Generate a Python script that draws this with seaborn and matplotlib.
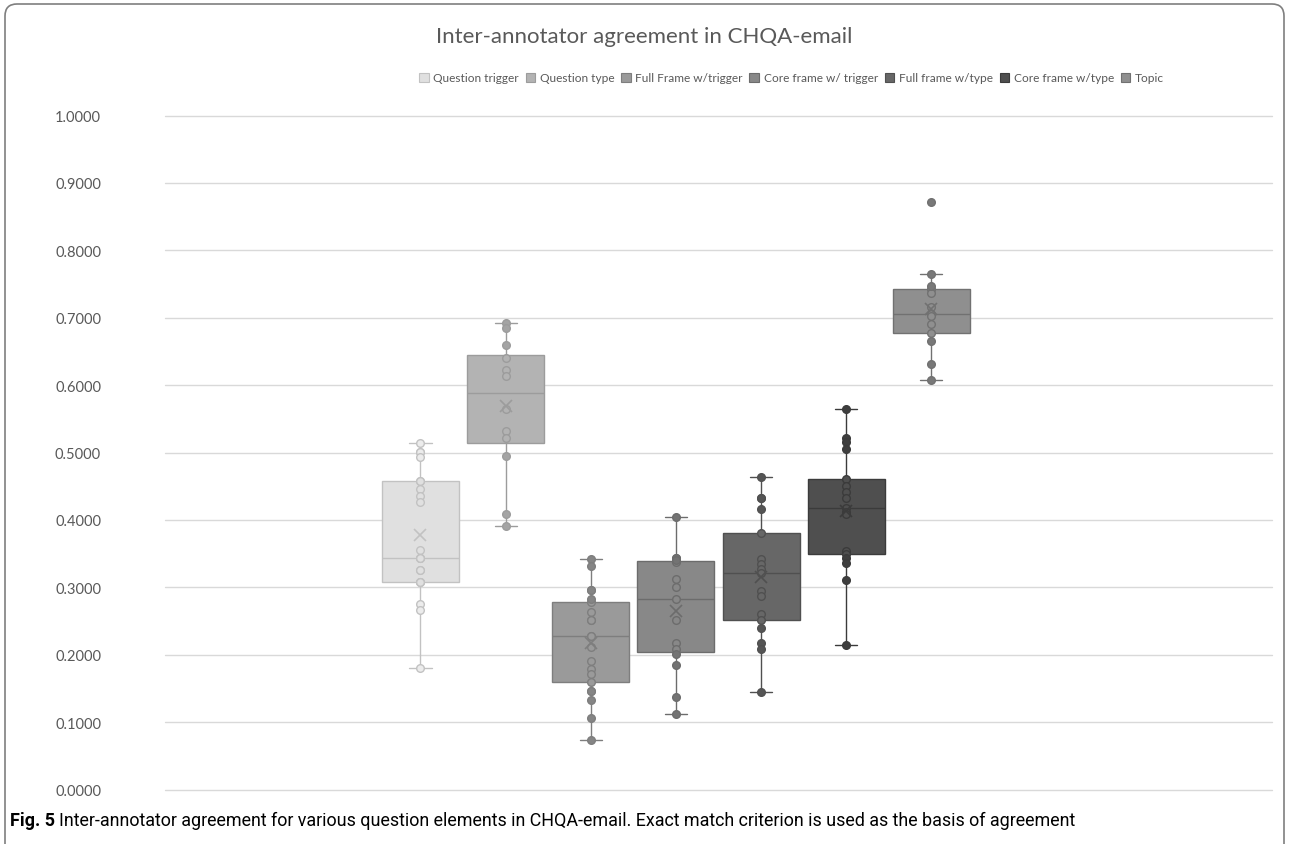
import matplotlib
matplotlib.use("Agg")
import matplotlib.pyplot as plt
from matplotlib.patches import FancyBboxPatch, Patch
from matplotlib.transforms import IdentityTransform
import seaborn as sns
import pandas as pd
import numpy as np

# agreement scores (hidden, overlapping dots estimated)
elements = ["Question trigger", "Question type", "Full Frame w/trigger",
            "Core frame w/ trigger", "Full frame w/type", "Core frame w/type", "Topic"]

question_trigger = [0.514, 0.501, 0.501, 0.494, 0.458, 0.458, 0.446, 0.436, 0.427, 0.355, 0.344,
                    0.343, 0.343, 0.325, 0.325, 0.308, 0.308, 0.308, 0.275, 0.267, 0.181]
question_type = [0.692, 0.684, 0.660, 0.640, 0.623, 0.613, 0.564, 0.532, 0.521, 0.495, 0.409, 0.391]
full_frame_trigger = [0.342, 0.331, 0.296, 0.296, 0.283, 0.278, 0.263, 0.251, 0.251, 0.228, 0.228,
                      0.212, 0.191, 0.179, 0.171, 0.159, 0.146, 0.146, 0.133, 0.106, 0.074]
core_frame_trigger = [0.405, 0.344, 0.344, 0.341, 0.337, 0.312, 0.300, 0.282, 0.252, 0.218, 0.208,
                      0.201, 0.184, 0.137, 0.112]
full_frame_type = [0.463, 0.433, 0.433, 0.416, 0.380, 0.342, 0.334, 0.327, 0.321, 0.295, 0.287,
                   0.261, 0.252, 0.239, 0.218, 0.208, 0.144]
core_frame_type = [0.564, 0.522, 0.515, 0.505, 0.460, 0.450, 0.442, 0.433, 0.418, 0.411, 0.409,
                   0.354, 0.350, 0.343, 0.336, 0.311, 0.214]
topic = [0.872, 0.765, 0.747, 0.743, 0.736, 0.716, 0.706, 0.703, 0.690, 0.678, 0.666, 0.631, 0.608]

series = [question_trigger, question_type, full_frame_trigger, core_frame_trigger,
          full_frame_type, core_frame_type, topic]

box_fill = ["#e0e0e0", "#b3b3b3", "#9a9a9a", "#888888", "#676767", "#4f4f4f", "#8f8f8f"]
line_col = ["#c2c2c2", "#9c9c9c", "#7e7e7e", "#6c6c6c", "#505050", "#3b3b3b", "#717171"]
dot_col = ["#ececec", "#a4a4a4", "#858585", "#737373", "#555555", "#3e3e3e", "#787878"]

df = pd.DataFrame({
    "element": np.repeat(elements, [len(s) for s in series]),
    "value": np.concatenate(series),
})

sns.set_theme(style="white")
plt.rcParams["font.family"] = ["Lato", "DejaVu Sans"]
text_col = "#595959"

W, H = 1289, 845
fig = plt.figure(figsize=(W / 100, H / 100), dpi=100)
ax = fig.add_axes([165 / W, (H - 790.5) / H, (1272 - 165) / W, 674 / H])

for i, name in enumerate(elements):
    sub = df[df["element"] == name]
    sns.boxplot(data=sub, x="element", y="value", order=elements, color=box_fill[i],
                linecolor=line_col[i], linewidth=1.0, width=0.905, saturation=1,
                showfliers=False, showmeans=True, capwidths=0.26,
                meanprops=dict(marker="x", markeredgecolor=line_col[i], markersize=9,
                               markeredgewidth=1.2, zorder=5),
                ax=ax)
    # dots inside the box look hollow, dots on the whiskers look solid
    q1, q3 = np.percentile(sub["value"], [25, 75])
    inside = sub[(sub["value"] >= q1) & (sub["value"] <= q3)]
    outside = sub[(sub["value"] < q1) | (sub["value"] > q3)]
    sns.stripplot(data=inside, x="element", y="value", order=elements, jitter=False,
                  color=box_fill[i], edgecolor=line_col[i], linewidth=1.0, size=5.5,
                  zorder=4, ax=ax)
    sns.stripplot(data=outside, x="element", y="value", order=elements, jitter=False,
                  color=dot_col[i], edgecolor=line_col[i], linewidth=1.0, size=5.5,
                  zorder=4, ax=ax)

ax.set_xlim(-3, 10)
ax.set_ylim(0, 1)
ax.set_xticks([])
ax.set_xlabel("")
ax.set_ylabel("")
ax.set_yticks(np.arange(0, 1.01, 0.1))
ax.yaxis.set_major_formatter(matplotlib.ticker.FuncFormatter(lambda v, p: f"{v:.4f}"))
ax.tick_params(axis="y", length=0, pad=46, labelsize=10.5, labelcolor=text_col)
ax.yaxis.grid(True, color="#d9d9d9", linewidth=1.0)
for gl in ax.get_ygridlines():
    gl.set_clip_on(False)
ax.set_axisbelow(True)
for sp in ax.spines.values():
    sp.set_visible(False)

fig.text(0.5, 1 - 37 / H, "Inter-annotator agreement in CHQA-email", ha="center",
         va="center", fontsize=16, color=text_col)

handles = [Patch(facecolor=box_fill[i], edgecolor=line_col[i], linewidth=0.8)
           for i in range(len(elements))]
fig.legend(handles, elements, loc="center left", bbox_to_anchor=(419 / W, 1 - 79 / H),
           ncol=7, frameon=False, handlelength=0.8, handleheight=0.8,
           handletextpad=0.4, columnspacing=0.55, fontsize=8.6, labelcolor=text_col,
           borderpad=0, borderaxespad=0)

border = FancyBboxPatch((5, -30), W - 10, H - 5 + 30, boxstyle="round,pad=0,rounding_size=12",
                        transform=IdentityTransform(), facecolor="none",
                        edgecolor="#7f7f7f", linewidth=1.2, clip_on=False)
fig.add_artist(border)

cap_font = ["Roboto", "DejaVu Sans"]
cap_y = 1 - 826 / H
cap = fig.text(10 / W, cap_y, "Fig. 5", fontweight="bold", fontsize=12.9,
               va="baseline", ha="left", family=cap_font, color="black")
ax.annotate("Inter-annotator agreement for various question elements in CHQA-email. "
            "Exact match criterion is used as the basis of agreement",
            xy=(1, cap_y), xycoords=(cap, "figure fraction"),
            xytext=(3, 0), textcoords="offset points", va="baseline", ha="left",
            fontsize=12.9, family=cap_font, color="black", annotation_clip=False)

fig.savefig("out.png", dpi=100, facecolor="white")
